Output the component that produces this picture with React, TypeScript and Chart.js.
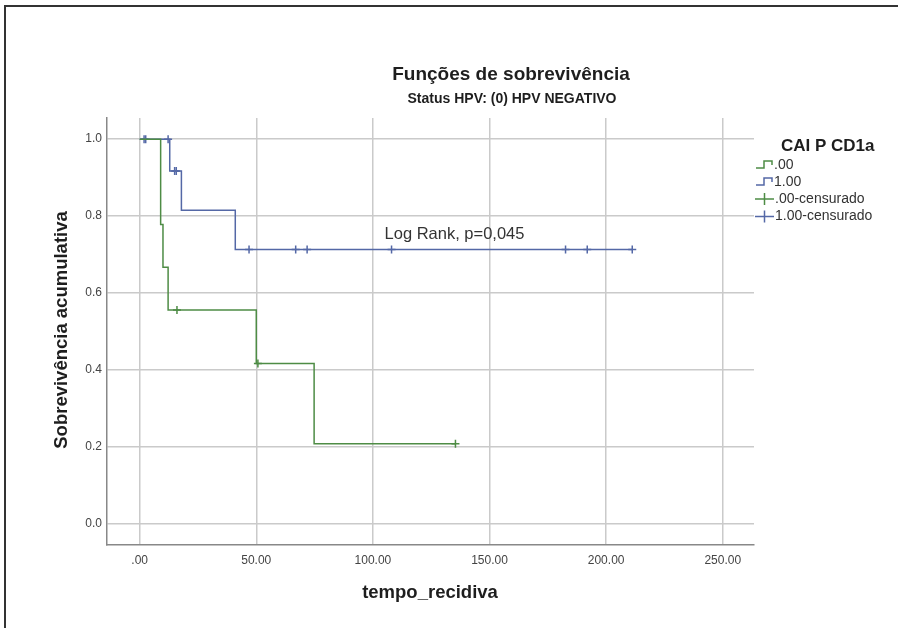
import { useEffect, useRef } from 'react';
import { Chart, registerables } from 'chart.js';

Chart.register(...registerables);

const FONT = '"Liberation Sans", Arial, sans-serif';

// Groups
const groupLabels = ['.00', '1.00'];
const censorLabels = ['.00-censurado', '1.00-censurado'];
const groupColors = ['#4e8c45', '#5468a6'];

// Group .00 (green): step points (time, survival after step)
const timeG = [0, 9, 10, 12.2, 50, 74.8, 135.4];
const survG = [1, 0.778, 0.667, 0.556, 0.417, 0.208, 0.208];
const censorTimeG = [16, 50.7, 135.4];
const censorSurvG = [0.556, 0.417, 0.208];

// Group 1.00 (blue)
const timeB = [0, 12.9, 17.9, 41, 211.2];
const survB = [1, 0.917, 0.815, 0.713, 0.713];
const censorTimeB = [1.9, 2.6, 12.2, 15.0, 15.7, 46.9, 66.9, 71.8, 108, 182.6, 191.9, 211.2];
const censorSurvB = [1, 1, 1, 0.917, 0.917, 0.713, 0.713, 0.713, 0.713, 0.713, 0.713, 0.713];

// Axes
const xTicks = [0, 50, 100, 150, 200, 250];
const xTickLabels = ['.00', '50.00', '100.00', '150.00', '200.00', '250.00'];
const yTicks = [0, 0.2, 0.4, 0.6, 0.8, 1.0];
const yTickLabels = ['0.0', '0.2', '0.4', '0.6', '0.8', '1.0'];

const titleText = 'Funções de sobrevivência';
const subtitleText = 'Status HPV: (0) HPV NEGATIVO';
const xTitle = 'tempo_recidiva';
const yTitle = 'Sobrevivência acumulativa';
const legendTitle = 'CAI P CD1a';
const logRankText = 'Log Rank, p=0,045';
const logRankAt = { x: 105, y: 0.752 };

const zip = (xs: number[], ys: number[]) => xs.map((x, i) => ({ x, y: ys[i] }));

const decorPlugin = {
  id: 'decor',
  afterDraw(chart: any) {
    const ctx = chart.ctx as CanvasRenderingContext2D;
    ctx.save();
    // frame
    ctx.strokeStyle = '#333';
    ctx.lineWidth = 2;
    ctx.strokeRect(5, 6, 1200, 1200);

    ctx.fillStyle = '#1e1e1e';
    ctx.textAlign = 'center';
    ctx.textBaseline = 'middle';
    ctx.font = `bold 19px ${FONT}`;
    ctx.fillText(titleText, 511, 75);
    ctx.font = `bold 14px ${FONT}`;
    ctx.fillText(subtitleText, 512, 99);

    ctx.font = `bold 18.5px ${FONT}`;
    ctx.fillText(xTitle, 430, 593);
    ctx.save();
    ctx.translate(62, 330);
    ctx.rotate(-Math.PI / 2);
    ctx.fillText(yTitle, 0, 0);
    ctx.restore();

    // Log rank annotation
    const xs = chart.scales.x, ys = chart.scales.y;
    ctx.fillStyle = '#333';
    ctx.textAlign = 'left';
    ctx.font = `16.5px ${FONT}`;
    ctx.fillText(logRankText, xs.getPixelForValue(logRankAt.x), ys.getPixelForValue(logRankAt.y));

    // Legend
    ctx.fillStyle = '#1e1e1e';
    ctx.font = `bold 17px ${FONT}`;
    ctx.fillText(legendTitle, 781, 146);
    ctx.font = `14px ${FONT}`;
    const rows = [165, 182, 199, 216.5];
    ctx.lineWidth = 1.5;
    groupLabels.forEach((lab, i) => {
      const y = rows[i];
      ctx.strokeStyle = groupColors[i];
      ctx.beginPath();
      ctx.moveTo(756, y + 3);
      ctx.lineTo(764, y + 3);
      ctx.lineTo(764, y - 4);
      ctx.lineTo(772, y - 4);
      ctx.lineTo(772, y);
      ctx.stroke();
      ctx.fillStyle = '#333';
      ctx.fillText(lab, 774, y);
    });
    censorLabels.forEach((lab, i) => {
      const y = rows[i + 2];
      ctx.strokeStyle = groupColors[i];
      ctx.beginPath();
      ctx.moveTo(755, y);
      ctx.lineTo(774, y);
      ctx.moveTo(764.5, y - 6);
      ctx.lineTo(764.5, y + 6);
      ctx.stroke();
      ctx.fillStyle = '#333';
      ctx.fillText(lab, 775, y);
    });
    ctx.restore();
  },
};

export default function App() {
  const ref = useRef<HTMLCanvasElement>(null);
  useEffect(() => {
    if (!ref.current) return;
    const chart = new Chart(ref.current, {
      type: 'line',
      data: {
        datasets: [
          {
            label: groupLabels[0],
            data: zip(timeG, survG),
            borderColor: groupColors[0],
            borderWidth: 1.5,
            pointRadius: 0,
            stepped: true,
            fill: false,
          },
          {
            label: groupLabels[1],
            data: zip(timeB, survB),
            borderColor: groupColors[1],
            borderWidth: 1.5,
            pointRadius: 0,
            stepped: true,
            fill: false,
          },
          {
            type: 'scatter',
            label: censorLabels[0],
            data: zip(censorTimeG, censorSurvG),
            borderColor: groupColors[0],
            backgroundColor: groupColors[0],
            pointStyle: 'cross',
            pointRadius: 4,
            borderWidth: 1.5,
            showLine: false,
          },
          {
            type: 'scatter',
            label: censorLabels[1],
            data: zip(censorTimeB, censorSurvB),
            borderColor: groupColors[1],
            backgroundColor: groupColors[1],
            pointStyle: 'cross',
            pointRadius: 4,
            borderWidth: 1.5,
            showLine: false,
          },
        ] as any,
      },
      options: {
        responsive: false,
        animation: false,
        layout: { padding: { left: 0, top: 118, right: 144, bottom: 0 } },
        plugins: { legend: { display: false }, tooltip: { enabled: false }, title: { display: false } },
        scales: {
          x: {
            type: 'linear',
            min: -14,
            max: 263.4,
            afterBuildTicks: (s: any) => { s.ticks = xTicks.map((v) => ({ value: v })); },
            afterFit: (s: any) => { s.height = 83; },
            ticks: {
              callback: (_v: any, i: number) => xTickLabels[i],
              font: { family: FONT, size: 12 },
              color: '#444',
              padding: 8,
              maxRotation: 0,
              autoSkip: false,
            },
            grid: { color: '#cacaca', lineWidth: 1.5, drawTicks: false },
            border: { color: '#888', width: 1.5 },
          },
          y: {
            type: 'linear',
            min: -0.055,
            max: 1.055,
            afterBuildTicks: (s: any) => { s.ticks = yTicks.map((v) => ({ value: v })); },
            afterFit: (s: any) => { s.width = 107; },
            ticks: {
              callback: (_v: any, i: number) => yTickLabels[i],
              font: { family: FONT, size: 12 },
              color: '#444',
              padding: 5,
              autoSkip: false,
            },
            grid: { color: '#cacaca', lineWidth: 1.5, drawTicks: false },
            border: { color: '#888', width: 1.5 },
          },
        },
      } as any,
      plugins: [decorPlugin],
    });
    return () => chart.destroy();
  }, []);
  return (
    <div style={{ position: 'fixed', left: 0, top: 0, width: 898, height: 628, background: '#fff' }}>
      <canvas ref={ref} width={898} height={628} style={{ display: 'block' }} />
    </div>
  );
}
